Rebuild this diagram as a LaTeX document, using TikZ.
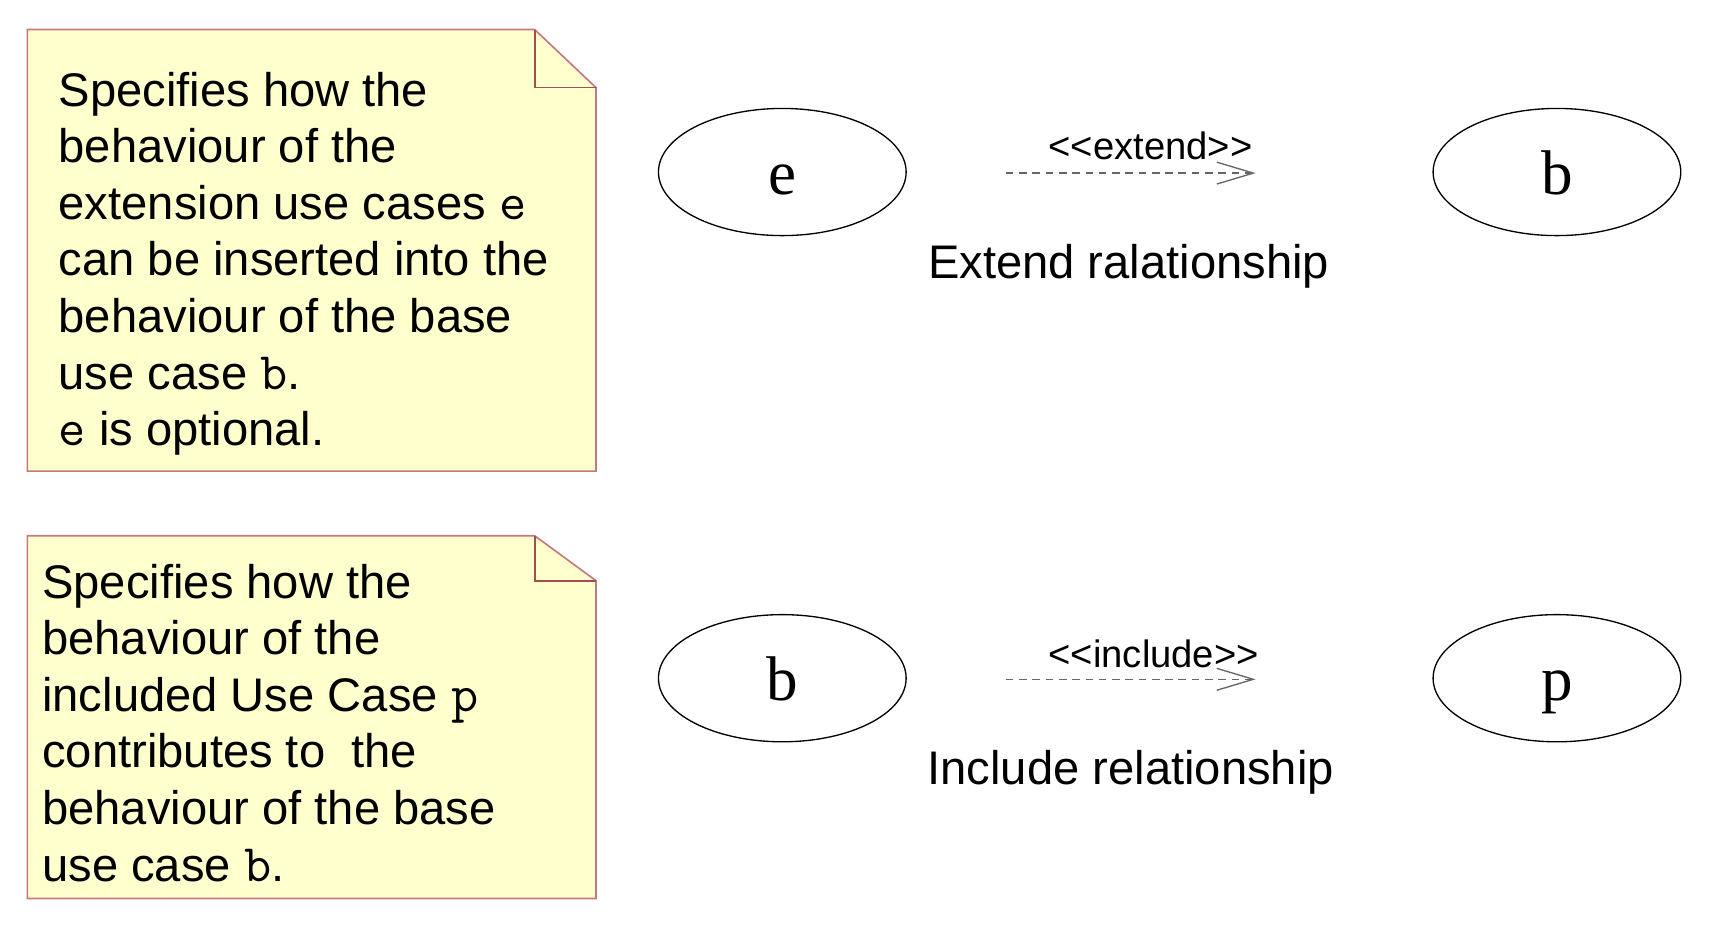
\documentclass[tikz,border=0pt]{standalone}
\usepackage{fontspec}
\setmainfont{Liberation Sans}
\setmonofont{Latin Modern Mono}[Scale=1.12]
\newfontfamily\ucfont{Liberation Serif}
\usetikzlibrary{arrows.meta,shapes.geometric,positioning}

\definecolor{notefill}{RGB}{255,255,206}
\definecolor{noteline}{RGB}{196,120,130}
\definecolor{foldline}{RGB}{160,80,80}

\tikzstyle{every node}=[inner sep=0pt]
\tikzstyle{note}=[draw=noteline, fill=notefill, line width=0.5pt]
\tikzstyle{fold}=[draw=foldline, line width=0.5pt]
\tikzstyle{notetext}=[anchor=north west, align=left, font=\fontsize{14.2}{17.06}\selectfont]
\tikzstyle{usecase}=[draw, ellipse, line width=0.4pt, minimum width=74.6pt, minimum height=38.3pt,
  text height=13.6pt, text depth=0pt, font=\ucfont\fontsize{19}{19}\selectfont]
\tikzstyle{dep}=[draw=black!60, line width=0.4pt, dash pattern=on 2.3pt off 1.7pt, -{Straight Barb[length=11pt, width=6.6pt, line width=0.4pt]}]
\tikzstyle{stereo}=[font=\fontsize{11.5}{13}\selectfont]
\tikzstyle{caption}=[font=\fontsize{14.2}{17}\selectfont]

\begin{document}
\begin{tikzpicture}[x=0.33pt, y=-0.33pt]
  \useasboundingbox (0,0) rectangle (1568,852);

  % notes
  \path[note] (25,27) -- (488,27) -- (544,80) -- (544,430) -- (25,430) -- cycle;
  \path[fold] (488,27) -- (488,80) -- (544,80);
  \node[notetext] (extnote) at (53,65) {Specifies how the\\
    behaviour of the\\
    extension use cases \texttt{e}\\
    can be inserted into the\\
    behaviour of the base\\
    use case \texttt{b}.\\
    \texttt{e} is optional.};

  \path[note] (25,489) -- (488,489) -- (544,530) -- (544,820) -- (25,820) -- cycle;
  \path[fold] (488,489) -- (488,530) -- (544,530);
  \node[notetext] (incnote) at (38,514) {Specifies how the\\
    behaviour of the\\
    included Use Case \texttt{p}\\
    contributes to\ \ the\\
    behaviour of the base\\
    use case \texttt{b}.};

  % extend
  \node[usecase] (exte) at (714,157) {e};
  \node[usecase] (extb) at (1421,157) {b};
  \coordinate (extfrom) at (918,158);
  \coordinate (extto) at (1146,158);
  \draw[dep] (extfrom) -- (extto);
  \node[stereo] (extlbl) at (1050,133) {<\kern0pt<extend>\kern0pt>};
  \node[caption] (extcap) at (1030,243) {Extend ralationship};

  % include
  \node[usecase] (incb) at (714,619) {b};
  \node[usecase] (incp) at (1421,619) {p};
  \coordinate (incfrom) at (918,620);
  \coordinate (incto) at (1146,620);
  \draw[dep] (incfrom) -- (incto);
  \node[stereo] (inclbl) at (1053,597) {<\kern0pt<include>\kern0pt>};
  \node[caption] (inccap) at (1032,705) {Include relationship};
\end{tikzpicture}
\end{document}
